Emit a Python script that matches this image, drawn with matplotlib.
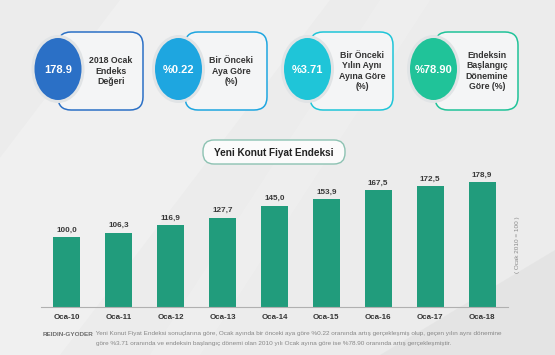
import matplotlib.pyplot as plt
import numpy as np
from matplotlib.patches import Ellipse, FancyBboxPatch, Polygon

plt.rcParams['font.family'] = ['Liberation Sans', 'DejaVu Sans']

# data
years = ['Oca-10', 'Oca-11', 'Oca-12', 'Oca-13', 'Oca-14', 'Oca-15', 'Oca-16', 'Oca-17', 'Oca-18']
values = [100.0, 106.3, 116.9, 127.7, 145.0, 153.9, 167.5, 172.5, 178.9]
card_values = ['178.9', '%0.22', '%3.71', '%78.90']
card_labels = ['2018 Ocak\nEndeks\nDeğeri',
               'Bir Önceki\nAya Göre\n(%)',
               'Bir Önceki\nYılın Aynı\nAyına Göre\n(%)',
               'Endeksin\nBaşlangıç\nDönemine\nGöre (%)']
card_colors = ['#2b70c6', '#1ea6e0', '#1fc5d8', '#20c399']
title = 'Yeni Konut Fiyat Endeksi'
note1_bold = 'REIDIN-GYODER'
note1 = (' Yeni Konut Fiyat Endeksi sonuçlarına göre, Ocak ayında bir önceki aya göre %0.22 oranında '
         'artış gerçekleşmiş olup, geçen yılın aynı dönemine')
note2 = ('göre %3.71 oranında ve endeksin başlangıç dönemi olan 2010 yılı Ocak ayına göre ise '
         '%78.90 oranında artış gerçekleşmiştir.')

fig = plt.figure(figsize=(5.55, 3.55), dpi=100)
fig.patch.set_facecolor('#ececec')

# background layer in pixel units
bg = fig.add_axes([0, 0, 1, 1])
bg.set_xlim(0, 555)
bg.set_ylim(355, 0)
bg.axis('off')

# faint diagonal streaks
for pts, a in [([(120, 0), (330, 0), (60, 355), (-150, 355)], 0.22),
               ([(380, 0), (430, 0), (200, 355), (150, 355)], 0.15)]:
    bg.add_patch(Polygon(pts, closed=True, fc='white', ec='none', alpha=a, zorder=0))
bg.add_patch(Polygon([(555, 250), (555, 355), (380, 355)], closed=True,
                     fc='#dadada', ec='none', alpha=0.4, zorder=0))

# info cards
circle_x = [58, 178.5, 307.5, 433.5]
box_left = [58, 185, 310, 435]
box_right = [143, 267, 393, 518]
text_x = [111, 231, 362, 487]
for i in range(4):
    box = FancyBboxPatch((box_left[i], 32), box_right[i] - box_left[i], 78,
                         boxstyle='round,pad=0,rounding_size=13',
                         fc='#f4f5f6', ec=card_colors[i], lw=1.1, zorder=2)
    bg.add_patch(box)
    bg.add_patch(Ellipse((circle_x[i], 69), 53, 68, fc='#e1e4e6', ec='none', zorder=3))
    bg.add_patch(Ellipse((circle_x[i], 69), 47, 62, fc=card_colors[i], ec='none', zorder=4))
    bg.text(circle_x[i], 70, card_values[i], ha='center', va='center', color='white',
            fontsize=8, fontweight='bold', zorder=5)
    bg.text(text_x[i], 71, card_labels[i], ha='center', va='center', color='#333333',
            fontsize=6.3, fontweight='bold', linespacing=1.2, zorder=5)

# title box
bg.add_patch(FancyBboxPatch((203, 140), 142, 24, boxstyle='round,pad=0,rounding_size=11',
                            fc='#fbfbfb', ec='#8cc2b2', lw=1.0, zorder=2))
bg.text(274, 152.5, title, ha='center', va='center', fontsize=7.2,
        fontweight='bold', color='#222222', zorder=3)

# vertical note
bg.text(517.5, 245, '( Ocak 2010 = 100 )', rotation=90, ha='center', va='center',
        fontsize=4.6, color='#8a8a8a')

# footnote
t1 = bg.text(43, 334, note1_bold, ha='left', va='center', fontsize=4.6,
             fontweight='bold', color='#6e6e6e')
bg.annotate(note1, xy=(1, 0), xycoords=t1, ha='left', va='bottom',
            fontsize=4.6, color='#878787')
bg.text(274, 343, note2, ha='center', va='center', fontsize=4.6, color='#878787')

# bar chart
ax = fig.add_axes([40.7 / 555, (355 - 306.7) / 355, 467.3 / 555, 136.7 / 355])
ax.patch.set_alpha(0)
x = np.arange(len(years))
bars = ax.bar(x, values, width=0.52, color='#219c7c', zorder=2)
for xi, v in zip(x, values):
    ax.annotate(f'{v:.1f}'.replace('.', ','), xy=(xi, v), xytext=(0, 2.5),
                textcoords='offset points', ha='center', va='bottom',
                fontsize=5.9, fontweight='bold', color='#3a3a3a')
ax.set_xlim(-0.5, 8.5)
ax.set_ylim(0, 196)
ax.set_xticks(x)
ax.set_xticklabels(years, fontsize=5.7, fontweight='bold', color='#333333')
ax.tick_params(axis='x', length=0, pad=5)
ax.set_yticks([])
for s in ['top', 'left', 'right']:
    ax.spines[s].set_visible(False)
ax.spines['bottom'].set_color('#b0b0b0')
ax.spines['bottom'].set_linewidth(0.8)

plt.savefig('out.png', dpi=100, facecolor=fig.get_facecolor())
